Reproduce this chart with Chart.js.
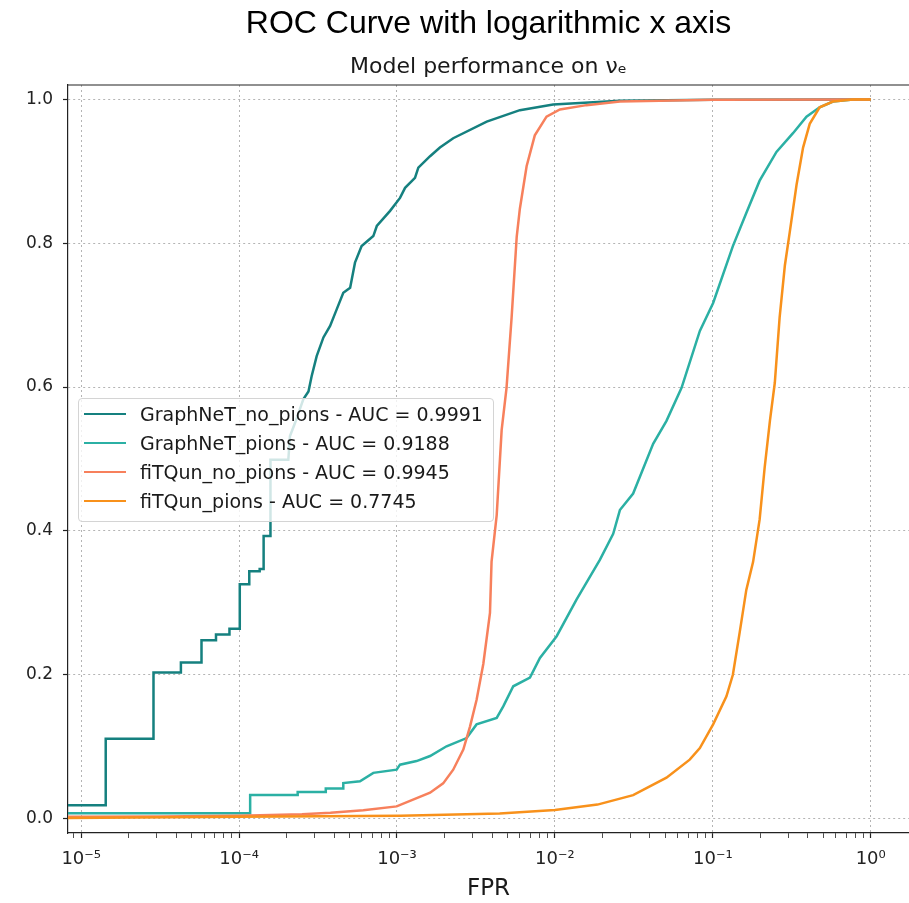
<!DOCTYPE html>
<html>
<head>
<meta charset="utf-8">
<script src="https://cdn.jsdelivr.net/npm/chart.js@4.4.0/dist/chart.umd.min.js"></script>
<style>
  html, body { margin: 0; padding: 0; background: #fff; overflow: hidden; }
  #wrap { position: relative; width: 909px; height: 903px; }
  #legend {
    position: absolute; left: 78px; top: 398px; width: 416px; height: 124px;
    box-sizing: border-box; border: 1px solid #d4d4d4; border-radius: 4px;
    background: rgba(255, 255, 255, 0.8);
    font-family: 'DejaVu Sans'; font-size: 19px; color: #1a1a1a;
  }
  .row { position: absolute; left: 0; width: 100%; height: 24px; }
  .swatch { position: absolute; left: 5px; top: 10.75px; width: 42px; height: 2.5px; }
  .lbl { position: absolute; left: 61px; top: 0; line-height: 24px; white-space: nowrap; }
</style>
</head>
<body>
<div id="wrap">
  <canvas id="roc" width="909" height="903"></canvas>
  <div id="legend"></div>
</div>
<script>
// series labels and colours
const seriesNames = ['GraphNeT_no_pions', 'GraphNeT_pions', 'fiTQun_no_pions', 'fiTQun_pions'];
const aucValues = ['0.9991', '0.9188', '0.9945', '0.7745'];
const seriesColors = ['#15807f', '#2bb0a4', '#f7805c', '#f8911b'];

// tick labels
const xTickValues = [1e-5, 1e-4, 1e-3, 1e-2, 1e-1, 1];
const xTickLabels = ['10⁻⁵', '10⁻⁴', '10⁻³', '10⁻²', '10⁻¹', '10⁰'];
const yTickValues = [0, 0.2, 0.4, 0.6, 0.8, 1.0];

// GraphNeT_no_pions
const gnNoPionsFpr = [8e-6, 1.43e-5, 1.43e-5, 2.87e-5, 2.87e-5, 4.28e-5, 4.28e-5, 5.78e-5, 5.78e-5, 7.14e-5,
  7.14e-5, 8.69e-5, 8.69e-5, 1.01e-4, 1.01e-4, 1.16e-4, 1.16e-4, 1.35e-4, 1.35e-4, 1.43e-4,
  1.43e-4, 1.58e-4, 1.58e-4, 2.05e-4, 2.10e-4, 2.26e-4, 2.55e-4, 2.75e-4, 2.88e-4, 3.10e-4,
  3.42e-4, 3.77e-4, 4.15e-4, 4.57e-4, 5.05e-4, 5.42e-4, 5.97e-4, 7.08e-4, 7.45e-4, 9.04e-4,
  1.045e-3, 1.125e-3, 1.30e-3, 1.365e-3, 1.62e-3, 1.87e-3, 2.27e-3, 3.70e-3, 6.0e-3, 9.75e-3,
  2.58e-2, 0.1, 1.0];
const gnNoPionsTpr = [0.0185, 0.0185, 0.111, 0.111, 0.203, 0.203, 0.217, 0.217, 0.248, 0.248,
  0.256, 0.256, 0.264, 0.264, 0.326, 0.326, 0.344, 0.344, 0.347, 0.347,
  0.393, 0.393, 0.499, 0.499, 0.532, 0.550, 0.583, 0.594, 0.615, 0.643,
  0.669, 0.685, 0.708, 0.731, 0.738, 0.773, 0.796, 0.810, 0.824, 0.845,
  0.863, 0.877, 0.891, 0.905, 0.921, 0.933, 0.946, 0.969, 0.985, 0.993,
  0.998, 0.9995, 1.0];

// GraphNeT_pions
const gnPionsFpr = [8e-6, 1.175e-4, 1.175e-4, 2.35e-4, 2.35e-4, 3.54e-4, 3.54e-4, 4.57e-4, 4.57e-4, 5.83e-4,
  7.08e-4, 9.95e-4, 1.045e-3, 1.33e-3, 1.62e-3, 2.06e-3, 2.76e-3, 3.19e-3, 4.28e-3, 4.71e-3,
  5.45e-3, 6.95e-3, 8.04e-3, 1.026e-2, 1.37e-2, 1.93e-2, 2.34e-2, 2.58e-2, 3.13e-2, 4.19e-2,
  5.09e-2, 6.34e-2, 8.28e-2, 0.1005, 0.134, 0.163, 0.198, 0.253, 0.322, 0.392,
  0.475, 0.577, 0.773, 1.0];
const gnPionsTpr = [0.0076, 0.0076, 0.033, 0.033, 0.037, 0.037, 0.042, 0.042, 0.0495, 0.052,
  0.0636, 0.068, 0.075, 0.080, 0.087, 0.1006, 0.112, 0.131, 0.140, 0.156,
  0.184, 0.196, 0.2235, 0.2536, 0.3046, 0.360, 0.396, 0.429, 0.452, 0.521,
  0.553, 0.599, 0.678, 0.717, 0.796, 0.842, 0.887, 0.927, 0.953, 0.976,
  0.989, 0.997, 1.0, 1.0];

// fiTQun_no_pions
const fqNoPionsFpr = [8e-6, 3.2e-5, 1e-4, 2.5e-4, 3.79e-4, 6.12e-4, 9.95e-4, 1.62e-3, 1.96e-3, 2.27e-3,
  2.63e-3, 2.90e-3, 3.19e-3, 3.52e-3, 3.88e-3, 3.97e-3, 4.28e-3, 4.60e-3, 4.94e-3, 5.32e-3,
  5.73e-3, 6.0e-3, 6.62e-3, 7.46e-3, 8.85e-3, 1.076e-2, 1.585e-2, 2.58e-2, 0.1, 1.0];
const fqNoPionsTpr = [0.0025, 0.003, 0.004, 0.006, 0.008, 0.0116, 0.017, 0.036, 0.049, 0.068,
  0.096, 0.128, 0.165, 0.215, 0.286, 0.357, 0.422, 0.540, 0.599, 0.697,
  0.809, 0.848, 0.907, 0.950, 0.976, 0.986, 0.992, 0.997, 0.9995, 1.0];

// fiTQun_pions
const fqPionsFpr = [8e-6, 1e-4, 1.05e-3, 4.47e-3, 1e-2, 1.86e-2, 3.13e-2, 5.09e-2, 7.14e-2, 8.28e-2,
  0.1005, 0.122, 0.134, 0.148, 0.163, 0.180, 0.198, 0.213, 0.230, 0.247,
  0.265, 0.286, 0.307, 0.339, 0.373, 0.411, 0.475, 0.577, 0.773, 1.0];
const fqPionsTpr = [0.001, 0.0025, 0.004, 0.007, 0.012, 0.0195, 0.0327, 0.057, 0.082, 0.098,
  0.131, 0.170, 0.200, 0.259, 0.318, 0.357, 0.416, 0.488, 0.553, 0.606,
  0.697, 0.769, 0.815, 0.881, 0.933, 0.966, 0.989, 0.997, 1.0, 1.0];

const fprs = [gnNoPionsFpr, gnPionsFpr, fqNoPionsFpr, fqPionsFpr];
const tprs = [gnNoPionsTpr, gnPionsTpr, fqNoPionsTpr, fqPionsTpr];

// all decade + minor tick positions for the log axis
const xMin = 8.25e-6, xMax = 1.748;
const xTicksAll = [];
for (let e = -6; e <= 0; e++) {
  for (let m = 1; m <= 9; m++) {
    const v = m * Math.pow(10, e);
    if (v >= xMin && v <= xMax) xTicksAll.push(v);
  }
}
const majorIndex = (v) => xTickValues.findIndex(t => Math.abs(Math.log10(v) - Math.log10(t)) < 1e-6);

const datasets = seriesNames.map((name, i) => ({
  label: name + ' - AUC = ' + aucValues[i],
  data: fprs[i].map((x, j) => ({ x: x, y: tprs[i][j] })),
  borderColor: seriesColors[i],
  borderWidth: 2.5,
  pointRadius: 0,
  tension: 0,
  fill: false,
  order: seriesNames.length - 1 - i
}));

const topSpine = {
  id: 'topSpine',
  afterDraw(c) {
    const { ctx, chartArea: a } = c;
    ctx.save();
    ctx.strokeStyle = '#222';
    ctx.lineWidth = 1.2;
    ctx.beginPath();
    ctx.moveTo(a.left, a.top);
    ctx.lineTo(a.right, a.top);
    ctx.stroke();
    ctx.restore();
  }
};

new Chart(document.getElementById('roc'), {
  type: 'line',
  data: { datasets: datasets },
  options: {
    responsive: false,
    animation: false,
    layout: { padding: 0 },
    plugins: {
      legend: { display: false },
      tooltip: { enabled: false },
      title: {
        display: true,
        text: 'ROC Curve with logarithmic x axis',
        fullSize: false,
        color: '#000',
        font: { family: 'Liberation Sans', size: 32, weight: 'normal' },
        padding: { top: 5, bottom: 0 }
      },
      subtitle: {
        display: true,
        text: 'Model performance on νₑ',
        fullSize: false,
        color: '#1a1a1a',
        font: { family: 'DejaVu Sans', size: 22, weight: 'normal' },
        padding: { top: 10.4, bottom: 4.8 }
      }
    },
    scales: {
      x: {
        type: 'logarithmic',
        min: xMin,
        max: xMax,
        afterBuildTicks: (s) => { s.ticks = xTicksAll.map(v => ({ value: v })); },
        afterFit: (s) => { s.height = 70; },
        ticks: {
          autoSkip: false,
          maxRotation: 0,
          padding: 11,
          color: '#222',
          font: { family: 'DejaVu Sans', size: 18 },
          callback: (v) => { const k = majorIndex(v); return k >= 0 ? xTickLabels[k] : ''; }
        },
        grid: {
          color: (ctx) => (ctx.tick && majorIndex(ctx.tick.value) >= 0) ? '#b4b4b4' : 'rgba(0,0,0,0)',
          lineWidth: 1,
          tickColor: '#222',
          tickLength: 5,
          tickWidth: (ctx) => (ctx.tick && majorIndex(ctx.tick.value) >= 0) ? 1.2 : 0.8,
          tickBorderDash: []
        },
        border: { display: true, color: '#222', width: 1.2, dash: [2, 3] },
        title: {
          display: true,
          text: 'FPR',
          color: '#1a1a1a',
          font: { family: 'DejaVu Sans', size: 23 },
          padding: { top: 0, bottom: 0 }
        }
      },
      y: {
        min: -0.02,
        max: 1.02,
        afterBuildTicks: (s) => { s.ticks = yTickValues.map(v => ({ value: v })); },
        afterFit: (s) => { s.width = 68; },
        ticks: {
          padding: 10,
          color: '#222',
          font: { family: 'DejaVu Sans', size: 17 },
          callback: (v) => v.toFixed(1)
        },
        grid: {
          color: '#b4b4b4',
          lineWidth: 1,
          tickColor: '#222',
          tickLength: 5,
          tickWidth: 1.2,
          tickBorderDash: []
        },
        border: { display: true, color: '#222', width: 1.2, dash: [2, 3] }
      }
    }
  },
  plugins: [topSpine]
});

// legend inside the plot, drawn as text
const legend = document.getElementById('legend');
const rowTops = [3, 32, 61, 90];
seriesNames.forEach((name, i) => {
  const row = document.createElement('div');
  row.className = 'row';
  row.style.top = rowTops[i] + 'px';
  const sw = document.createElement('div');
  sw.className = 'swatch';
  sw.style.background = seriesColors[i];
  const lbl = document.createElement('div');
  lbl.className = 'lbl';
  lbl.textContent = name + ' - AUC = ' + aucValues[i];
  row.appendChild(sw);
  row.appendChild(lbl);
  legend.appendChild(row);
});
</script>
</body>
</html>
